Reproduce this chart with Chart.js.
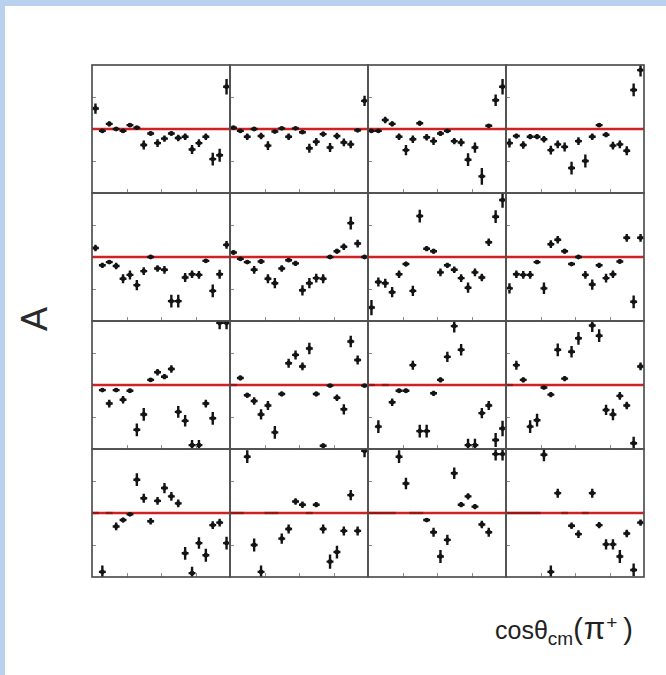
<!DOCTYPE html>
<html>
<head>
<meta charset="utf-8">
<script src="https://cdn.jsdelivr.net/npm/chart.js@4.4.1/dist/chart.umd.min.js"></script>
<style>
  html, body { margin: 0; padding: 0; background: #fff; }
  #page { position: relative; width: 666px; height: 675px; overflow: hidden; background: #fff; }
  #bandTop { position: absolute; left: 0; top: 0; width: 666px; height: 6px; background: #b9d0ee; }
  #bandLeft { position: absolute; left: 0; top: 0; width: 5px; height: 675px; background: #b9d0ee; }
  canvas.panel { position: absolute; }
  #ylab { position: absolute; left: 15px; top: 298px; width: 40px; text-align: center;
          font: 36px "Liberation Sans", Arial, sans-serif; color: #2a2a2a; transform: rotate(-90deg); }
  #xlab { position: absolute; left: 495px; top: 611px; white-space: nowrap;
          font: 25px "Liberation Sans", Arial, sans-serif; color: #222; }
  #xlab sub { font-size: 19px; vertical-align: -6px; }
  #xlab .big { font-size: 29px; }
  #xlab .pi { font-size: 31px; margin-left: 1px; }
  #xlab sup { font-size: 19px; vertical-align: 10px; margin-left: 1px; margin-right: 6px; }
</style>
</head>
<body>
<div id="page">
  <div id="bandTop"></div>
  <div id="bandLeft"></div>
  <div id="ylab">A</div>
  <div id="xlab">cosθ<sub>cm</sub><span class="big">(</span><span class="pi">π</span><sup>+</sup><span class="big">)</span></div>
</div>
<script>
// bin centres in cos(theta_cm)
const cosBins = [-0.95, -0.85, -0.75, -0.65, -0.55, -0.45, -0.35, -0.25, -0.15, -0.05,
                 0.05, 0.15, 0.25, 0.35, 0.45, 0.55, 0.65, 0.75, 0.85, 0.95];

// asymmetry values and errors, panels read row by row (top-left first)
const p1Val = [0.32, -0.03, 0.08, 0.0, -0.03, 0.06, 0.02, -0.25, -0.07, -0.22, -0.15, -0.07, -0.14, -0.12, -0.32, -0.22, -0.12, -0.47, -0.41, 0.66];
const p1Err = [0.08, 0.02, 0.04, 0.02, 0.02, 0.03, 0.02, 0.07, 0.03, 0.06, 0.05, 0.03, 0.05, 0.05, 0.07, 0.06, 0.05, 0.1, 0.1, 0.12];
const p2Val = [0.02, -0.03, -0.12, 0.0, -0.11, -0.26, -0.04, 0.01, -0.12, 0.01, -0.05, -0.30, -0.20, -0.08, -0.29, -0.11, -0.21, -0.24, -0.02, 0.44];
const p2Err = [0.02, 0.02, 0.05, 0.02, 0.05, 0.07, 0.02, 0.02, 0.05, 0.02, 0.02, 0.07, 0.06, 0.04, 0.07, 0.05, 0.06, 0.06, 0.02, 0.08];
const p3Val = [-0.03, -0.03, 0.14, 0.08, -0.12, -0.33, -0.16, 0.09, -0.13, -0.19, -0.07, -0.03, -0.19, -0.21, -0.48, -0.29, -0.74, 0.05, 0.45, 0.66];
const p3Err = [0.02, 0.02, 0.05, 0.04, 0.05, 0.08, 0.06, 0.04, 0.05, 0.06, 0.04, 0.02, 0.05, 0.06, 0.1, 0.08, 0.13, 0.02, 0.09, 0.12];
const p4Val = [-0.22, -0.11, -0.25, -0.12, -0.12, -0.16, -0.33, -0.24, -0.28, -0.61, -0.19, -0.50, -0.12, 0.06, -0.09, -0.26, -0.24, -0.34, 0.61, 0.92];
const p4Err = [0.07, 0.04, 0.06, 0.04, 0.04, 0.05, 0.07, 0.06, 0.07, 0.1, 0.06, 0.1, 0.05, 0.03, 0.04, 0.06, 0.06, 0.07, 0.1, 0.1];

const p5Val = [0.14, -0.13, -0.08, -0.14, -0.34, -0.28, -0.44, -0.22, 0.0, -0.18, -0.20, -0.69, -0.69, -0.32, -0.27, -0.28, -0.06, -0.53, -0.27, 0.19];
const p5Err = [0.05, 0.04, 0.03, 0.05, 0.07, 0.07, 0.08, 0.06, 0.01, 0.05, 0.06, 0.1, 0.1, 0.07, 0.06, 0.06, 0.03, 0.1, 0.07, 0.06];
const p6Val = [0.07, -0.03, -0.08, -0.20, -0.07, -0.34, -0.41, -0.18, -0.05, -0.10, -0.52, -0.41, -0.33, -0.34, 0.0, 0.09, 0.16, 0.53, 0.21, 0.0];
const p6Err = [0.03, 0.02, 0.03, 0.06, 0.04, 0.07, 0.08, 0.05, 0.03, 0.04, 0.08, 0.08, 0.07, 0.07, 0.01, 0.04, 0.05, 0.1, 0.06, 0.01];
const p7Val = [-0.79, -0.39, -0.41, -0.55, -0.27, -0.11, -0.53, 0.64, 0.13, 0.09, -0.24, -0.13, -0.20, -0.33, -0.48, -0.24, -0.32, 0.23, 0.63, 0.89];
const p7Err = [0.12, 0.07, 0.07, 0.08, 0.06, 0.04, 0.08, 0.1, 0.04, 0.04, 0.06, 0.04, 0.05, 0.06, 0.08, 0.06, 0.06, 0.06, 0.1, 0.12];
const p8Val = [-0.49, -0.27, -0.28, -0.28, -0.08, -0.49, 0.20, 0.27, 0.09, -0.11, 0.0, -0.28, -0.43, -0.13, -0.33, -0.27, -0.07, 0.30, -0.70, 0.30];
const p8Err = [0.08, 0.06, 0.06, 0.06, 0.03, 0.09, 0.06, 0.06, 0.04, 0.03, 0.01, 0.06, 0.08, 0.04, 0.07, 0.06, 0.03, 0.06, 0.1, 0.06];

const p9Val = [null, -0.08, -0.29, -0.08, -0.23, -0.09, -0.70, -0.46, 0.08, 0.20, 0.13, 0.25, -0.42, -0.56, -0.94, -0.94, -0.29, -0.52, 0.97, 0.97];
const p9Err = [0, 0.03, 0.06, 0.03, 0.06, 0.03, 0.1, 0.1, 0.03, 0.05, 0.04, 0.06, 0.09, 0.09, 0.08, 0.08, 0.06, 0.1, 0.1, 0.1];
const p10Val = [0.0, 0.11, -0.16, -0.25, -0.46, -0.32, -0.74, -0.14, 0.34, 0.47, 0.29, 0.57, -0.14, -0.95, -0.01, -0.20, -0.38, 0.68, 0.39, -0.01];
const p10Err = [0, 0.04, 0.04, 0.06, 0.08, 0.07, 0.1, 0.04, 0.07, 0.07, 0.06, 0.09, 0.04, 0.04, 0.01, 0.05, 0.08, 0.09, 0.07, 0.01];
const p11Val = [0.0, -0.65, 0.0, -0.27, -0.09, -0.09, 0.31, -0.72, -0.72, -0.13, 0.08, 0.44, 0.92, 0.55, -0.94, -0.94, -0.44, -0.32, -0.86, -0.68];
const p11Err = [0, 0.1, 0, 0.06, 0.03, 0.03, 0.07, 0.1, 0.1, 0.04, 0.04, 0.08, 0.1, 0.09, 0.1, 0.1, 0.08, 0.07, 0.11, 0.12];
const p12Val = [0.0, 0.31, 0.08, -0.65, -0.55, -0.04, -0.15, 0.55, 0.10, 0.52, 0.73, null, 0.93, 0.77, -0.39, -0.46, -0.17, -0.32, -0.91, 0.29];
const p12Err = [0, 0.07, 0.04, 0.1, 0.1, 0.01, 0.04, 0.1, 0.04, 0.09, 0.1, 0, 0.1, 0.1, 0.08, 0.09, 0.06, 0.06, 0.1, 0.06];

const p13Val = [0.0, -0.92, 0.0, -0.21, -0.11, -0.02, 0.52, 0.23, -0.13, 0.19, 0.39, 0.26, 0.15, -0.63, -0.94, -0.47, -0.66, -0.19, -0.15, -0.47];
const p13Err = [0, 0.1, 0, 0.06, 0.04, 0.01, 0.1, 0.07, 0.05, 0.06, 0.08, 0.07, 0.06, 0.1, 0.1, 0.09, 0.1, 0.06, 0.06, 0.1];
const p14Val = [0.0, 0.0, 0.88, -0.50, -0.92, 0.0, 0.0, -0.40, -0.25, 0.18, 0.13, 0.0, 0.13, -0.25, -0.76, -0.61, -0.28, 0.28, -0.28, 0.97];
const p14Err = [0, 0, 0.1, 0.1, 0.1, 0, 0, 0.08, 0.07, 0.05, 0.05, 0, 0.04, 0.07, 0.11, 0.1, 0.07, 0.08, 0.07, 0.1];
const p15Val = [0.0, 0.0, 0.0, 0.0, 0.88, 0.46, 0.0, 0.0, -0.11, -0.30, -0.68, -0.42, 0.62, 0.13, 0.26, 0.10, -0.18, -0.30, 0.92, 0.92];
const p15Err = [0, 0, 0, 0, 0.1, 0.09, 0, 0, 0.02, 0.07, 0.1, 0.08, 0.09, 0.04, 0.05, 0.04, 0.06, 0.07, 0.1, 0.1];
const p16Val = [0.0, 0.0, 0.0, 0.0, 0.0, 0.91, -0.92, 0.31, 0.0, -0.20, -0.33, 0.0, 0.31, -0.19, -0.49, -0.49, -0.68, -0.32, -0.89, -0.15];
const p16Err = [0, 0, 0, 0, 0, 0.1, 0.1, 0.07, 0, 0.05, 0.06, 0, 0.07, 0.05, 0.08, 0.08, 0.1, 0.06, 0.1, 0.05];

const panelVals = [p1Val, p2Val, p3Val, p4Val, p5Val, p6Val, p7Val, p8Val,
                   p9Val, p10Val, p11Val, p12Val, p13Val, p14Val, p15Val, p16Val];
const panelErrs = [p1Err, p2Err, p3Err, p4Err, p5Err, p6Err, p7Err, p8Err,
                   p9Err, p10Err, p11Err, p12Err, p13Err, p14Err, p15Err, p16Err];

const tickPos = [-0.5, 0, 0.5];
const halfBin = 0.05;

// panel geometry on the page
const gridLeft = 92, gridTop = 65, panelW = 138, panelH = 128, pad = 2;

// draws ROOT-style error crosses for dataset 1
const errorBars = {
  id: "errorBars",
  afterDatasetsDraw(chart) {
    const { ctx, chartArea: a, scales: { x, y } } = chart;
    const ds = chart.data.datasets[1];
    ctx.save();
    ctx.beginPath();
    ctx.rect(a.left, a.top, a.right - a.left, a.bottom - a.top);
    ctx.clip();
    ds.data.forEach((p, i) => {
      const err = ds.errors[i];
      const px = x.getPixelForValue(p.x);
      const py = y.getPixelForValue(p.y);
      const x0 = x.getPixelForValue(p.x - halfBin);
      const x1 = x.getPixelForValue(p.x + halfBin);
      if (err === 0) {
        // empty bin: short dash on the zero line
        ctx.strokeStyle = "rgba(110,10,10,0.55)";
        ctx.lineWidth = 2.4;
        ctx.beginPath();
        ctx.moveTo(x0, py);
        ctx.lineTo(x1, py);
        ctx.stroke();
        return;
      }
      ctx.strokeStyle = "#141414";
      ctx.lineWidth = 2.4;
      ctx.beginPath();
      ctx.moveTo(x0, py);
      ctx.lineTo(x1, py);
      ctx.moveTo(px, y.getPixelForValue(p.y + err));
      ctx.lineTo(px, y.getPixelForValue(p.y - err));
      ctx.stroke();
      ctx.fillStyle = "#141414";
      ctx.beginPath();
      ctx.arc(px, py, 2.4, 0, Math.PI * 2);
      ctx.fill();
    });
    ctx.restore();
  }
};

// frame and small inward ticks
const frame = {
  id: "frame",
  afterDraw(chart) {
    const { ctx, chartArea: a, scales: { x, y } } = chart;
    ctx.save();
    ctx.strokeStyle = "#8a8a8a";
    ctx.lineWidth = 1;
    ctx.beginPath();
    tickPos.forEach(t => {
      const tx = Math.round(x.getPixelForValue(t)) + 0.5;
      ctx.moveTo(tx, a.bottom);
      ctx.lineTo(tx, a.bottom - 4);
      if (t !== 0) {
        const ty = Math.round(y.getPixelForValue(t)) + 0.5;
        ctx.moveTo(a.left, ty);
        ctx.lineTo(a.left + 4, ty);
      }
    });
    ctx.stroke();
    ctx.strokeStyle = "#505050";
    ctx.lineWidth = 1.7;
    ctx.strokeRect(a.left, a.top, a.right - a.left, a.bottom - a.top);
    ctx.restore();
  }
};

const page = document.getElementById("page");

panelVals.forEach((vals, k) => {
  const row = Math.floor(k / 4), col = k % 4;
  const canvas = document.createElement("canvas");
  canvas.className = "panel";
  canvas.width = panelW + 2 * pad;
  canvas.height = panelH + 2 * pad;
  canvas.style.left = (gridLeft + col * panelW - pad) + "px";
  canvas.style.top = (gridTop + row * panelH - pad) + "px";
  page.appendChild(canvas);

  const pts = [], errs = [];
  cosBins.forEach((c, i) => {
    if (vals[i] === null) return;
    pts.push({ x: c, y: vals[i] });
    errs.push(panelErrs[k][i]);
  });

  new Chart(canvas, {
    type: "scatter",
    data: {
      datasets: [
        {
          type: "line",
          data: [{ x: -1, y: 0 }, { x: 1, y: 0 }],
          borderColor: "#d02222",
          borderWidth: 2.4,
          pointRadius: 0,
        },
        {
          data: pts,
          errors: errs,
          pointRadius: 0,
          showLine: false,
        },
      ],
    },
    options: {
      responsive: false,
      animation: false,
      events: [],
      layout: { padding: pad },
      plugins: { legend: { display: false }, tooltip: { enabled: false } },
      scales: {
        x: { type: "linear", min: -1, max: 1, display: false },
        y: { type: "linear", min: -1, max: 1, display: false },
      },
    },
    plugins: [errorBars, frame],
  });
});
</script>
</body>
</html>
